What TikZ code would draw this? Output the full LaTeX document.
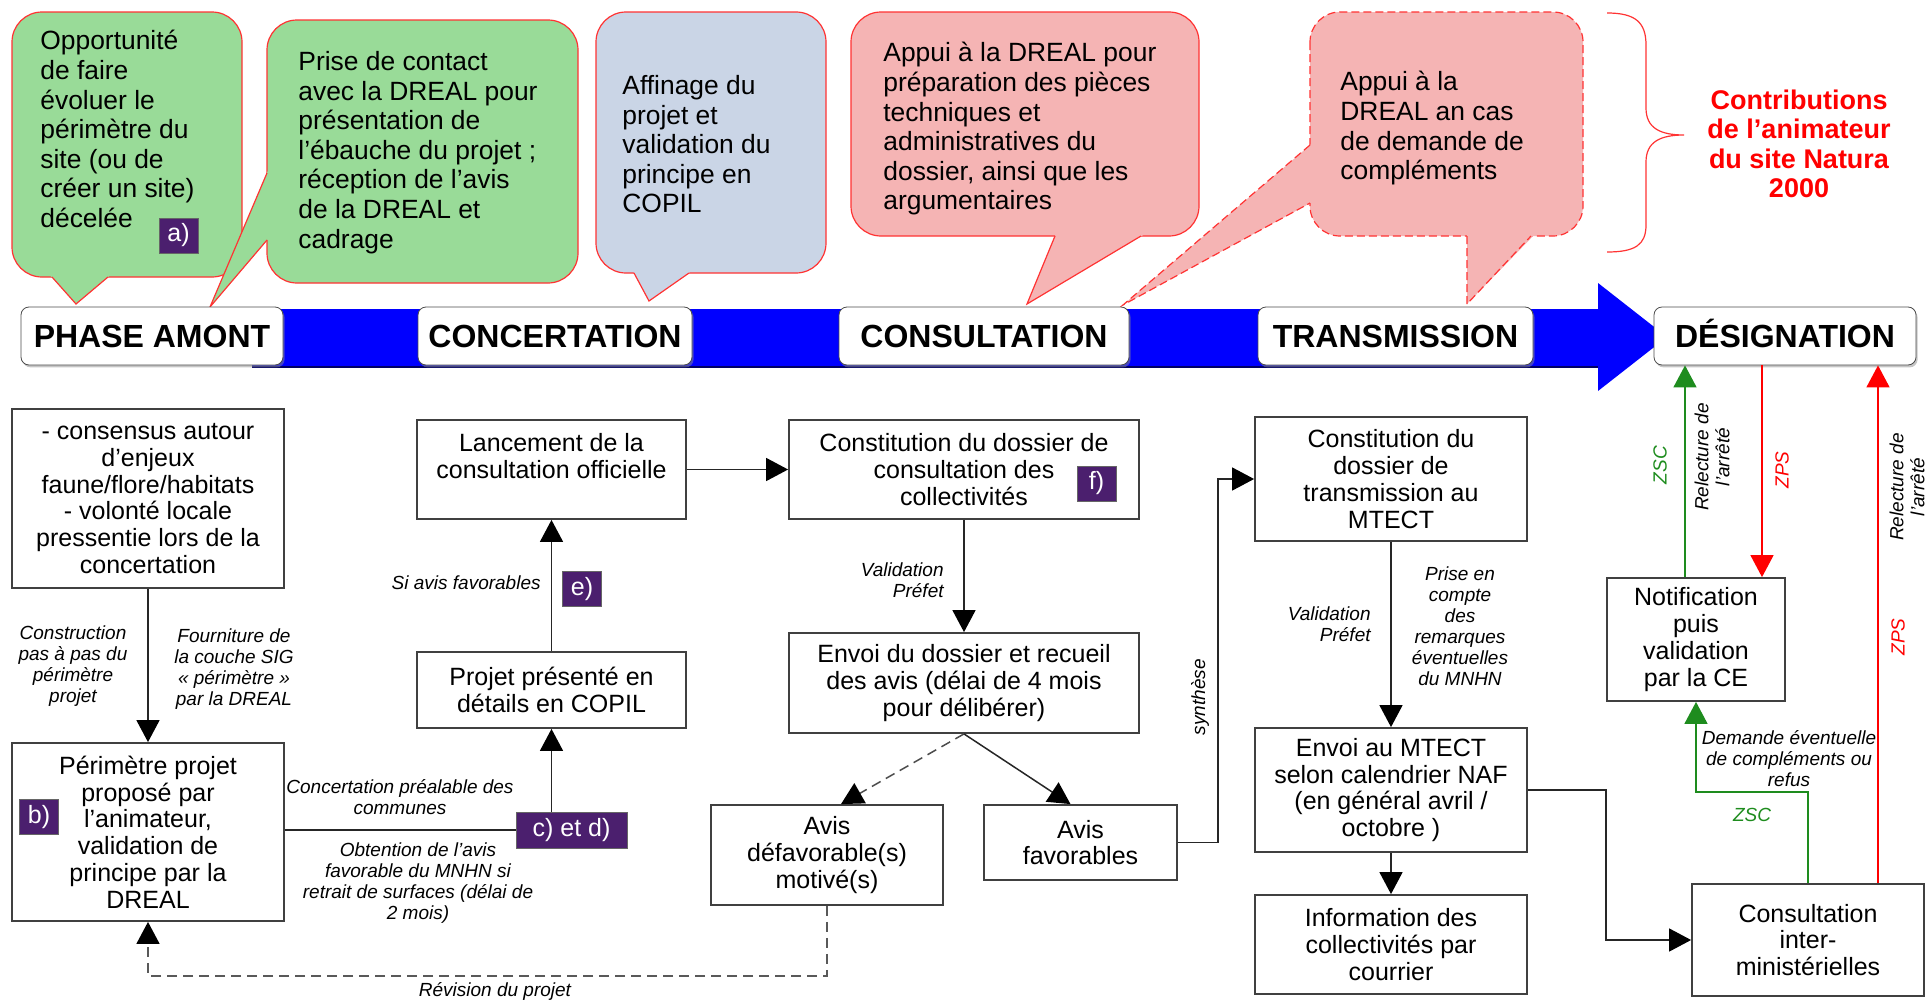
\documentclass[tikz,border=0pt]{standalone}
\usepackage{fontspec}
\setmainfont{Liberation Sans}
\usetikzlibrary{arrows.meta}
\usetikzlibrary{shadows}

\definecolor{bubgreen}{HTML}{99DB98}
\definecolor{bubblue}{HTML}{CAD5E6}
\definecolor{bubpink}{HTML}{F5B4B4}
\definecolor{bubred}{HTML}{FF3333}
\definecolor{badgecol}{HTML}{4B1F6E}
\definecolor{bandblue}{HTML}{0000FF}
\definecolor{zscgreen}{HTML}{1E8C1E}

\tikzset{
    box/.style={draw=black!75, line width=0.9pt, fill=white, align=center, inner sep=2pt,
        font=\fontsize{12.5}{13.4}\selectfont,
        drop shadow={shadow xshift=0.6pt, shadow yshift=-0.6pt, fill=black!30}},
    phase/.style={draw=black!70, fill=white, rounded corners=4pt, minimum height=29pt, inner sep=0pt,
        text height=11.5pt, text depth=0pt, font=\fontsize{16}{18}\selectfont\bfseries,
        drop shadow={shadow xshift=0.8pt, shadow yshift=-1.2pt, fill=black!45}},
    badge/.style={fill=badgecol, draw=black!60, text=white, inner sep=0pt,
        minimum width=19.5pt, minimum height=17.5pt, font=\fontsize{12.5}{14}\selectfont},
    note/.style={font=\fontsize{9.5}{10.5}\selectfont\itshape, align=center, inner sep=0pt},
    bubtext/.style={anchor=north west, align=left, inner sep=0pt, font=\fontsize{13.2}{14.8}\selectfont},
    bubedge/.style={draw=bubred, line width=0.6pt},
    arr/.style={-{Triangle[length=11pt,width=11.5pt,color=black]}, line width=0.75pt, draw=black!85},
    garr/.style={line width=0.75pt, draw=zscgreen, -{Triangle[length=11pt,width=11.5pt,color=zscgreen]}},
    rarr/.style={line width=0.75pt, draw=red, -{Triangle[length=11pt,width=11.5pt,color=red]}},
}

\begin{document}
\begin{tikzpicture}[x=0.5pt, y=-0.5pt]
    \useasboundingbox (0,0) rectangle (1928,1001);

    % bulles
    \draw [bubedge, fill=bubgreen, rounded corners=15pt] (12,12) rectangle (242,277);
    \fill [bubgreen] (47,272) -- (76,304) -- (114,272) -- cycle;
    \draw [bubedge] (52,277) -- (76,304) -- (108,277);
    \node [bubtext] (t1) at (40,30) {Opportunité\\de faire\\évoluer le\\périmètre du\\site (ou de\\créer un site)\\décelée};
    \node [badge] (ba) at (178.5,235.5) {a)};

    \draw [bubedge, fill=bubgreen, rounded corners=15pt] (267,20) rectangle (578,283);
    \fill [bubgreen] (270,166) -- (210,307) -- (270,237) -- cycle;
    \draw [bubedge] (267,173) -- (210,307) -- (267,240);
    \node [bubtext] (t2) at (298,51) {Prise de contact\\avec la DREAL pour\\présentation de\\l'ébauche du projet ;\\réception de l'avis\\de la DREAL et\\cadrage};

    \draw [bubedge, fill=bubblue, rounded corners=15pt] (596,12) rectangle (826,273);
    \fill [bubblue] (631,267) -- (649,301) -- (697,267) -- cycle;
    \draw [bubedge] (634,273) -- (649,301) -- (689,273);
    \node [bubtext] (t3) at (622,75) {Affinage du\\projet et\\validation du\\principe en\\COPIL};

    \draw [bubedge, fill=bubpink, rounded corners=15pt] (851,12) rectangle (1199,236);
    \fill [bubpink] (1057,231) -- (1027,304) -- (1150,231) -- cycle;
    \draw [bubedge] (1055,236) -- (1027,304) -- (1141,236);
    \node [bubtext] (t4) at (883,42) {Appui à la DREAL pour\\préparation des pièces\\techniques et\\administratives du\\dossier, ainsi que les\\argumentaires};

    \draw [bubedge, dash pattern=on 4pt off 2pt, fill=bubpink, rounded corners=15pt] (1310,12) rectangle (1583,236);
    \fill [bubpink] (1467,230) -- (1467,304) -- (1539,230) -- cycle;
    \draw [bubedge, dash pattern=on 4pt off 2pt] (1467,236) -- (1467,304) -- (1531,236);
    \fill [bubpink] (1316,140) -- (1123,305) -- (1316,200) -- cycle;
    \draw [bubedge, dash pattern=on 4pt off 2pt] (1310,145) -- (1123,305) -- (1310,203);
    \node [bubtext] (t5) at (1340,71) {Appui à la\\DREAL an cas\\de demande de\\compléments};

    \draw [bubedge] (1607,13) .. controls (1635,13) and (1646,22) .. (1646,45) -- (1646,108)
        .. controls (1646,128) and (1660,135) .. (1684,135)
        .. controls (1660,135) and (1646,142) .. (1646,162) -- (1646,225)
        .. controls (1646,245) and (1635,252) .. (1607,252);
    \node [font=\fontsize{13.5}{14.75}\selectfont\bfseries, text=red, align=center] (contrib) at (1799,144)
        {Contributions\\de l’animateur\\du site Natura\\2000};

    % frise des phases
    \fill [bandblue] (252,309) -- (1598,309) -- (1598,283) -- (1667,337) -- (1598,391) -- (1598,367) -- (252,367) -- cycle;
    \draw [blue!40!black, line width=1pt] (252,367) -- (1598,367);
    \node [phase, minimum width=131pt] (amont) at (152,336) {PHASE AMONT};
    \node [phase, minimum width=137pt] (conc) at (555,336) {CONCERTATION};
    \node [phase, minimum width=145pt] (cons) at (984,336) {CONSULTATION};
    \node [phase, minimum width=137.5pt] (trans) at (1395.5,336) {TRANSMISSION};
    \node [phase, minimum width=131pt] (desi) at (1785,336) {DÉSIGNATION};

    % boites
    \node [box, minimum width=136pt, minimum height=89.5pt] (enj) at (148,498.5) {- consensus autour\\d’enjeux\\faune/flore/habitats\\- volonté locale\\pressentie lors de la\\concertation};
    \node [box, minimum width=136pt, minimum height=89pt] (per) at (148,832) {Périmètre projet\\proposé par\\l'animateur,\\validation de\\principe par la\\DREAL};
    \node [badge] (bb) at (39,817) {b)};
    \node [box, minimum width=134.5pt, minimum height=49.5pt] (lanc) at (551.5,469.5) {Lancement de la\\consultation officielle\\\mbox{}};
    \node [box, minimum width=134.5pt, minimum height=38pt] (copil) at (551.5,690) {Projet présenté en\\détails en COPIL};
    \node [badge] (be) at (582,589) {e)};
    \node [badge, minimum width=55.5pt, minimum height=18pt] (bcd) at (571.5,830) {c) et d)};
    \node [box, minimum width=175pt, minimum height=49.5pt] (dosc) at (964,469.5) {Constitution du dossier de\\consultation des\\collectivités};
    \node [badge] (bf) at (1096.5,483.5) {f)};
    \node [box, minimum width=175pt, minimum height=50pt] (envd) at (964,683) {Envoi du dossier et recueil\\des avis (délai de 4 mois\\pour délibérer)};
    \node [box, minimum width=116pt, minimum height=50pt] (defav) at (827,855) {Avis\\défavorable(s)\\motivé(s)};
    \node [box, minimum width=96.5pt, minimum height=37.5pt] (fav) at (1080.5,842.5) {Avis\\favorables};
    \node [box, minimum width=136pt, minimum height=62pt] (dost) at (1391,479) {Constitution du\\dossier de\\transmission au\\MTECT};
    \node [box, minimum width=136pt, minimum height=62pt] (envm) at (1391,790) {Envoi au MTECT\\selon calendrier NAF\\(en général avril /\\octobre )};
    \node [box, minimum width=136pt, minimum height=49.5pt] (info) at (1391,944.5) {Information des\\collectivités par\\courrier};
    \node [box, minimum width=116pt, minimum height=56pt] (cim) at (1808,940) {Consultation\\inter-\\ministérielles};
    \node [box, minimum width=89pt, minimum height=61.5pt] (notif) at (1696,639.5) {Notification\\puis\\validation\\par la CE};

    % liaisons
    \draw [arr] (enj) -- (per);
    \draw [line width=0.75pt, black!85] (bcd.west -| per.east) -- (bcd.west);
    \draw [arr] (bcd.north -| copil.south) -- (copil.south);
    \draw [arr] (copil) -- (lanc);
    \draw [arr] (lanc) -- (dosc);
    \draw [arr] (dosc) -- (envd);
    \draw [arr, black!70, dash pattern=on 5pt off 3pt] (envd.south) -- ([xshift=7pt]defav.north);
    \draw [arr] (envd.south) -- ([xshift=-5pt]fav.north);
    \draw [arr, black!65, dash pattern=on 5pt off 3pt] (defav.south) -- ++(0,70) -| (per.south);
    \draw [arr] (fav.east) -- ++(40,0) |- (dost.west);
    \draw [arr] (dost) -- (envm);
    \draw [arr] (envm) -- (info);
    \draw [arr] (envm.east) -- ++(78,0) |- (cim.west);
    \coordinate (zscup) at ([xshift=-5.5pt]notif.north);
    \draw [garr] (zscup) -- (zscup |- desi.south);
    \coordinate (zpsdn) at ([xshift=33pt]notif.north);
    \draw [rarr] (zpsdn |- desi.south) -- (zpsdn);
    \coordinate (zpsup) at ([xshift=35pt]cim.north);
    \draw [rarr] (zpsup) -- (zpsup |- desi.south);
    \draw [garr] (cim.north) -- ++(0,-91) -| (notif.south);

    % textes des liaisons
    \node [note] (n1) at (73,666) {Construction\\pas à pas du\\périmètre\\projet};
    \node [note] (n2) at (234,669) {Fourniture de\\la couche SIG\\« périmètre »\\par la DREAL};
    \node [note, anchor=east] (n3) at (541,583) {Si avis favorables};
    \node [note] (n4) at (400,797) {Concertation préalable des\\communes};
    \node [note] (n5) at (418,883) {Obtention de l’avis\\favorable du MNHN si\\retrait de surfaces (délai de\\2 mois)};
    \node [note, anchor=east, align=right] (n6) at (944,580) {Validation\\Préfet};
    \node [note, rotate=90] (n7) at (1200,697) {synthèse};
    \node [note, anchor=east, align=right] (n8) at (1371,624) {Validation\\Préfet};
    \node [note] (n9) at (1460,626) {Prise en\\compte\\des\\remarques\\éventuelles\\du MNHN};
    \node [note, rotate=90, text=zscgreen] (n10) at (1660,465) {ZSC};
    \node [note, rotate=90] (n11) at (1712,457) {Relecture de\\l'arrêté};
    \node [note, rotate=90, text=red] (n12) at (1782,470) {ZPS};
    \node [note, rotate=90] (n13) at (1907,487) {Relecture de\\l'arrêté};
    \node [note, rotate=90, text=red] (n14) at (1898,637) {ZPS};
    \node [note] (n15) at (1789,759) {Demande éventuelle\\de compléments ou\\refus};
    \node [note, text=zscgreen] (n16) at (1752,815) {ZSC};
    \node [note] (n17) at (495,991) {Révision du projet};
\end{tikzpicture}
\end{document}
